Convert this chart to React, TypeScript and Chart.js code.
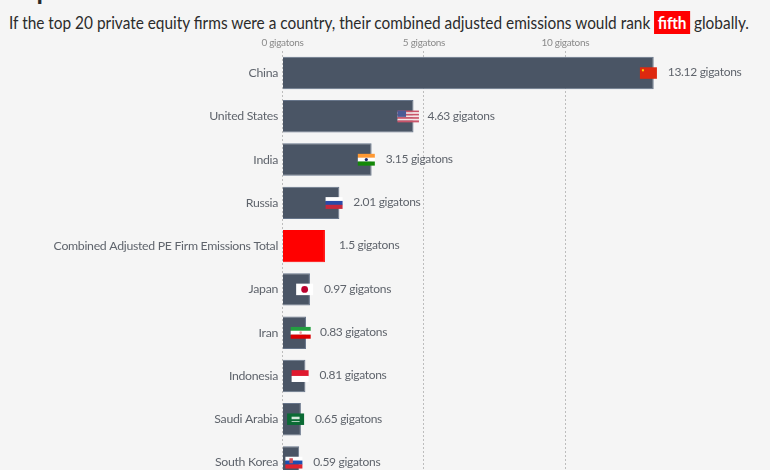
import React, { useEffect, useRef } from "react";
import { Chart, registerables } from "chart.js";

Chart.register(...registerables);

const categories = [
  "China",
  "United States",
  "India",
  "Russia",
  "Combined Adjusted PE Firm Emissions Total",
  "Japan",
  "Iran",
  "Indonesia",
  "Saudi Arabia",
  "South Korea",
];
const emissions = [13.12, 4.63, 3.15, 2.01, 1.5, 0.97, 0.83, 0.81, 0.65, 0.59];
const valueLabels = ["13.12", "4.63", "3.15", "2.01", "1.5", "0.97", "0.83", "0.81", "0.65", "0.59"];
const xTickValues = [0, 5, 10];
const flagCodes = ["cn", "us", "in", "ru", "", "jp", "ir", "id", "sa", "kr"];

const SLATE = "#4a5565";
const RED = "#ff0000";
const TEXT_GREY = "#5f646c";
const FONT = "Lato, 'Open Sans', sans-serif";

type Ctx = CanvasRenderingContext2D;

function stripes(c: Ctx, x: number, y: number, w: number, h: number, colors: string[]) {
  const sh = h / colors.length;
  colors.forEach((col, i) => {
    c.fillStyle = col;
    c.fillRect(x, y + i * sh, w, sh + 0.3);
  });
}

function drawFlag(c: Ctx, code: string, cx: number, cy: number) {
  const sizes: Record<string, number> = { us: 21.5, ir: 20 };
  const w = sizes[code] ?? 17;
  const h = 11.5;
  const x = cx - w / 2;
  const y = cy - h / 2;
  c.save();
  switch (code) {
    case "cn":
      c.fillStyle = "#de2910";
      c.fillRect(x, y, w, h);
      c.fillStyle = "#ffde00";
      c.fillRect(x + 2, y + 2, 2, 2);
      break;
    case "us":
      stripes(c, x, y, w, h, ["#c9546a", "#f5e6e8", "#c9546a", "#f5e6e8", "#c9546a", "#f5e6e8", "#c9546a"]);
      c.fillStyle = "#4a5a95";
      c.fillRect(x, y, w * 0.4, h * 0.55);
      break;
    case "in":
      stripes(c, x, y, w, h, ["#ff9933", "#ffffff", "#138808"]);
      c.fillStyle = "#1a2a6c";
      c.beginPath();
      c.arc(cx, cy, 1.6, 0, Math.PI * 2);
      c.fill();
      break;
    case "ru":
      stripes(c, x, y, w, h, ["#ffffff", "#2a4aa8", "#c8283c"]);
      break;
    case "jp":
      c.fillStyle = "#ffffff";
      c.fillRect(x, y, w, h);
      c.fillStyle = "#bc002d";
      c.beginPath();
      c.arc(cx, cy, 3.4, 0, Math.PI * 2);
      c.fill();
      break;
    case "ir":
      stripes(c, x, y, w, h, ["#239f40", "#ffffff", "#da0000"]);
      c.fillStyle = "#e8a0a0";
      c.beginPath();
      c.arc(cx, cy, 1.3, 0, Math.PI * 2);
      c.fill();
      break;
    case "id":
      stripes(c, x, y, w, h, ["#e01a2f", "#ffffff"]);
      break;
    case "sa":
      c.fillStyle = "#0b6b35";
      c.fillRect(x, y, w, h);
      c.fillStyle = "#d5e8dc";
      c.fillRect(cx - 4, cy - 2.5, 8, 2.5);
      c.fillRect(cx - 4, cy + 2, 8, 0.8);
      break;
    case "kr":
      stripes(c, x, y, w, h, ["#ffffff", "#1c4fb0", "#e0232e"]);
      c.fillStyle = "#d0505a";
      c.fillRect(x + 4, y + 1.5, 3.5, 5);
      break;
  }
  c.restore();
}

const decorations = {
  id: "decorations",
  beforeDraw(chart: Chart) {
    (chart.ctx as any).letterSpacing = "-0.3px";
  },
  afterDatasetsDraw(chart: Chart) {
    const c = chart.ctx;
    const meta = chart.getDatasetMeta(0);
    meta.data.forEach((bar: any, i: number) => {
      if (flagCodes[i]) drawFlag(c, flagCodes[i], bar.x - 5.3, bar.y);
      c.save();
      c.font = `12px ${FONT}`;
      c.fillStyle = TEXT_GREY;
      c.textAlign = "left";
      c.textBaseline = "middle";
      c.fillText(`${valueLabels[i]} gigatons`, bar.x + 14, bar.y - 0.5);
      c.restore();
    });
  },
};

export default function App() {
  const ref = useRef<HTMLCanvasElement>(null);

  useEffect(() => {
    document.body.style.margin = "0";
    const chart = new Chart(ref.current!, {
      type: "bar",
      data: {
        labels: categories,
        datasets: [
          {
            data: emissions,
            backgroundColor: categories.map((_, i) => (i === 4 ? RED : SLATE)),
            borderColor: categories.map((_, i) => (i === 4 ? RED : "#67758a")),
            borderWidth: 1,
            barPercentage: 0.75,
            categoryPercentage: 1,
          },
        ],
      },
      options: {
        indexAxis: "y",
        responsive: false,
        animation: false,
        layout: { padding: { left: 0, right: 6.5, top: 0, bottom: 0 } },
        plugins: { legend: { display: false }, tooltip: { enabled: false } },
        scales: {
          x: {
            position: "top",
            min: 0,
            max: 17,
            afterFit(axis: any) {
              axis.height = 51.4;
            },
            afterBuildTicks(axis: any) {
              axis.ticks = xTickValues.map((value) => ({ value }));
            },
            ticks: {
              autoSkip: false,
              maxRotation: 0,
              padding: 3,
              color: "#8a8a8a",
              font: { family: FONT, size: 10 },
              callback: (v: any) => `${v} gigatons`,
            },
            grid: {
              color: "#bdbdbd",
              lineWidth: 1,
              tickLength: 0,
              drawTicks: false,
            },
            border: { display: false, dash: [2, 2] },
          },
          y: {
            afterFit(axis: any) {
              axis.width = 282.5;
            },
            ticks: {
              autoSkip: false,
              padding: 4.5,
              color: TEXT_GREY,
              font: { family: FONT, size: 12.3 },
            },
            grid: { display: false, drawTicks: false, tickLength: 0 },
            border: { display: false },
          },
        },
      },
      plugins: [decorations],
    } as any);
    return () => chart.destroy();
  }, []);

  return (
    <div
      style={{
        position: "fixed",
        left: 0,
        top: 0,
        width: 770,
        height: 470,
        overflow: "hidden",
        background: "#f5f5f5",
        fontFamily: FONT,
      }}
    >
      <div
        style={{
          position: "absolute",
          left: 9,
          top: -26.5,
          fontSize: 26,
          fontWeight: 700,
          color: "#2a2a2a",
          whiteSpace: "nowrap",
        }}
      >
        Top 20 GHG Emissions
      </div>
      <div
        style={{
          position: "absolute",
          left: 9,
          top: 12,
          fontSize: 17.5,
          color: "#2b2b2b",
          whiteSpace: "nowrap",
          lineHeight: "22px",
          transform: "scaleX(0.88)",
          transformOrigin: "left center",
        }}
      >
        If the top 20 private equity firms were a country, their combined adjusted emissions would rank{" "}
        <span style={{ background: RED, color: "#fff", fontWeight: 700, padding: "1px 4px" }}>fifth</span> globally.
      </div>
      <canvas ref={ref} width={770} height={496} style={{ position: "absolute", left: 0, top: 0 }} />
    </div>
  );
}
